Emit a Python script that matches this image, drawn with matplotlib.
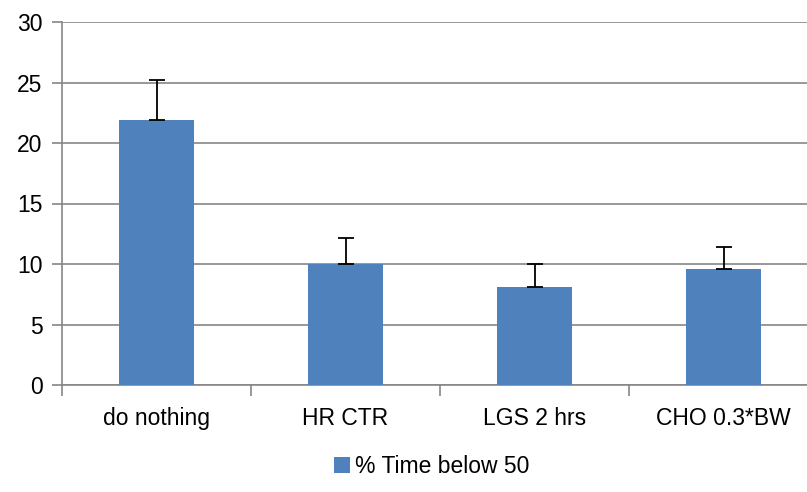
import matplotlib.pyplot as plt
import numpy as np

categories = ["do nothing", "HR CTR", "LGS 2 hrs", "CHO 0.3*BW"]
values = [21.9, 10.0, 8.1, 9.55]
errors = [3.3, 2.15, 1.9, 1.85]
series_name = "% Time below 50"

plt.rcParams['font.family'] = ['Liberation Sans', 'DejaVu Sans']

fig = plt.figure(figsize=(8.07, 4.92), dpi=100)
ax = fig.add_axes([62 / 807, 107 / 492, 756 / 807, 363 / 492])

x = np.arange(len(categories))
bar_color = "#4F81BD"
grid_color = "#868686"

ax.bar(x, values, width=0.4, color=bar_color, label=series_name, zorder=3)
ax.errorbar(x, values, yerr=[np.zeros(len(errors)), errors], fmt="none",
            ecolor="black", elinewidth=1.3, capsize=5.5, capthick=1.3, zorder=4)

ax.set_xlim(-0.5, len(categories) - 0.5)
ax.set_ylim(0, 30)
ax.set_yticks(range(0, 31, 5))
ax.yaxis.grid(True, color=grid_color, linewidth=1.2, zorder=0)

ax.set_xticks(x)
ax.set_xticklabels(categories)
ax.set_xticks(np.arange(-0.5, len(categories), 1), minor=True)
ax.tick_params(axis="x", which="major", length=0, pad=16, labelsize=16.5)
ax.tick_params(axis="x", which="minor", length=8, color=grid_color, width=1.2)
ax.tick_params(axis="y", length=7, color=grid_color, width=1.2, labelsize=16.5, pad=7)

for side in ["top", "right"]:
    ax.spines[side].set_visible(False)
for side in ["left", "bottom"]:
    ax.spines[side].set_color(grid_color)
    ax.spines[side].set_linewidth(1.2)

fig.legend(loc="center", bbox_to_anchor=(0.535, 0.052), frameon=False,
           fontsize=16.5, handlelength=0.7, handleheight=0.7, handletextpad=0.2)

fig.savefig("out.png", dpi=100)
